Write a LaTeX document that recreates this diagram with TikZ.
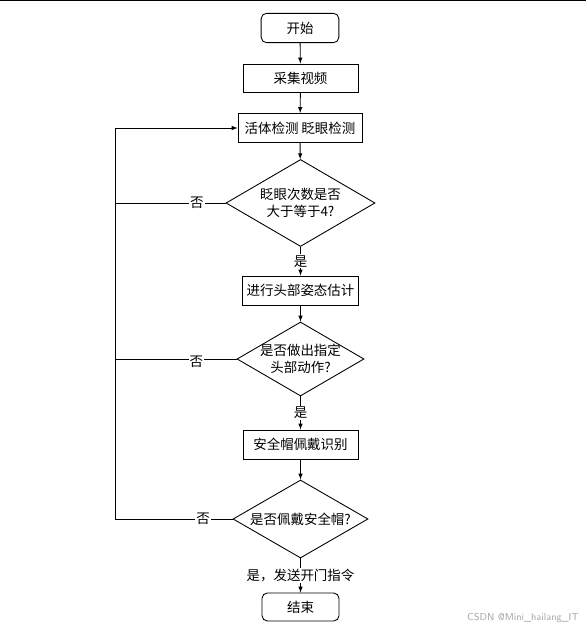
\documentclass[tikz,border=0pt]{standalone}
\usepackage{fontspec}
\newfontfamily\cjk{Noto Sans CJK SC}
\usetikzlibrary{arrows,shapes.geometric,calc}

\begin{document}
\begin{tikzpicture}[x=0.03cm,y=-0.03cm,>=latex,line width=0.75pt,
    every node/.style={font=\cjk\fontsize{11.5pt}{14.5pt}\selectfont},
    proc/.style={draw,rectangle,minimum height=0.87cm},
    term/.style={draw,rectangle,rounded corners=0.16cm,minimum width=2.33cm,minimum height=0.88cm},
    decide/.style={draw,diamond,inner sep=0pt},
    tag/.style={fill=white,inner sep=1pt}]
            \useasboundingbox (0,0) rectangle (586,629);
            \fill (0,0) rectangle (586,1.3);
            \node[term] (Start) at (300,28) {开始};
            \node[proc, minimum width=3.45cm, minimum height=0.84cm] (Video) at (300.5,78) {采集视频};
            \node[proc, minimum width=3.72cm] (Detect) at (300,128) {活体检测 眨眼检测};
            \node[decide, minimum width=4.47cm, minimum height=2.61cm,
                label={[align=center]center:眨眼次数是否\\大于等于4?}] (Blink) at (300.5,203) {};
            \node[proc, minimum width=3.45cm] (Pose) at (300.5,290.5) {进行头部姿态估计};
            \node[decide, minimum width=3.81cm, minimum height=2.22cm,
                label={[align=center]center:是否做出指定\\头部动作?}] (Action) at (300.5,359) {};
            \node[proc, minimum width=3.45cm] (Helmet) at (300.5,444.5) {安全帽佩戴识别};
            \node[decide, minimum width=4.05cm, minimum height=2.34cm,
                label={center:是否佩戴安全帽?}] (Wear) at (300.5,519) {};
            \node[term, minimum width=2.31cm, minimum height=0.84cm] (End) at (300.5,607) {结束};
            \coordinate (Loop) at (115,519);
            \node[text=gray!70, font=\sffamily\fontsize{8.6pt}{9pt}\selectfont, anchor=east] (Mark) at (583,618) {CSDN @Mini\_hailang\_IT};
            \draw[->] (Start) -- (Video);
            \draw[->] (Video) -- (Detect);
            \draw[->] (Detect) -- (Blink);
            \draw[->] (Blink) -- node[tag] {是} (Pose);
            \draw[->] (Pose) -- (Action);
            \draw[->] (Action) -- node[tag] {是} (Helmet);
            \draw[->] (Helmet) -- (Wear);
            \draw[->] (Wear) -- node[tag] {是，发送开门指令} (End);
            \draw (Blink.west) -- node[tag, pos=0.26] {否} (Blink.west -| Loop);
            \draw (Action.west) -- node[tag, pos=0.33, yshift=-2pt] {否} (Action.west -| Loop);
            \draw[->] (Wear.west) -- node[tag, pos=0.25] {否} (Loop) |- (Detect.west);
        \end{tikzpicture}
\end{document}
